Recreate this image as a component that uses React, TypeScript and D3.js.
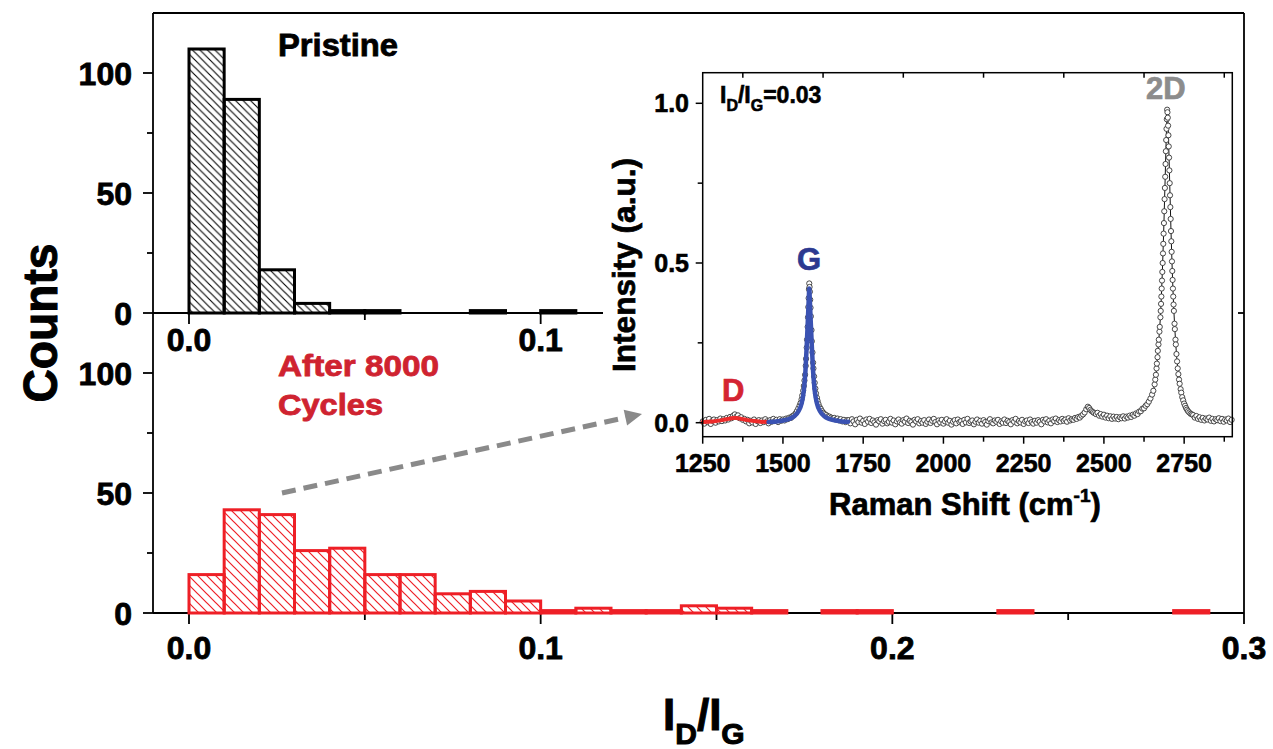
import React from 'react';
import * as d3 from 'd3';

// ---------------- data ----------------
const binWidth = 0.01;
const pristineCounts = [110, 89, 18, 4, 1, 1, 0, 0, 1, 0, 1];
const cycledCounts = [16, 43, 41, 26, 27, 16, 16, 8, 9, 5, 1, 2, 1, 1, 3, 2, 1, 0, 1, 1, 0, 0, 0, 1, 0, 0, 0, 0, 1, 0];
const countTickValues = [0, 50, 100];
const countMinorTicks = [25, 75];
const ratioTicksMain = [0, 0.1, 0.2, 0.3];
const ratioMinorMain = [0.05, 0.15, 0.25];
const ratioTicksTop = [0, 0.1];
const ratioMinorTop = [0.05];
const ramanTicks = [1250, 1500, 1750, 2000, 2250, 2500, 2750];
const ramanMinor = [1375, 1625, 1875, 2125, 2375, 2625, 2875];
const intensityTicks = [0, 0.5, 1.0];
const intensityMinor = [0.25, 0.75];

const spectrum: [number, number][] = [
  [1250, 0.004], [1255, -0.003], [1260, 0.009], [1265, 0.002], [1270, 0.012], [1275, -0.004], [1280, 0.006], [1285, 0.010],
  [1290, 0.000], [1295, 0.008], [1300, 0.004], [1305, 0.013], [1310, 0.005], [1315, 0.011], [1320, 0.007], [1325, 0.015],
  [1330, 0.010], [1335, 0.018], [1340, 0.014], [1345, 0.022], [1350, 0.026], [1355, 0.019], [1360, 0.023], [1365, 0.014],
  [1370, 0.017], [1375, 0.009], [1380, 0.012], [1385, 0.004], [1390, 0.009], [1395, -0.002], [1400, 0.006], [1405, 0.001],
  [1410, 0.010], [1415, -0.004], [1420, 0.005], [1425, 0.008], [1430, -0.001], [1435, 0.007], [1440, 0.002], [1445, 0.011],
  [1450, 0.004], [1455, -0.002], [1460, 0.008], [1465, 0.003], [1470, 0.012], [1475, 0.005], [1480, 0.009], [1485, 0.002],
  [1490, 0.011], [1495, 0.006], [1500, 0.010], [1505, 0.007], [1510, 0.013], [1515, 0.011], [1520, 0.016], [1525, 0.015],
  [1530, 0.021], [1535, 0.024], [1540, 0.030], [1544, 0.037], [1548, 0.045], [1552, 0.054],
  [1555, 0.062], [1558, 0.073], [1560, 0.085], [1563, 0.100], [1565, 0.115], [1567, 0.132], [1569, 0.150], [1571, 0.178],
  [1572, 0.200], [1574, 0.235], [1575, 0.260], [1577, 0.300], [1578, 0.330], [1579, 0.362], [1580, 0.390], [1581, 0.418],
  [1582, 0.436], [1583, 0.425], [1584, 0.410], [1585, 0.385], [1586, 0.360], [1587, 0.333], [1589, 0.290], [1590, 0.255],
  [1592, 0.220], [1594, 0.188], [1595, 0.170], [1597, 0.145], [1599, 0.125], [1601, 0.107], [1603, 0.092], [1606, 0.078],
  [1608, 0.068], [1611, 0.058], [1615, 0.048], [1618, 0.043], [1622, 0.036], [1626, 0.031], [1630, 0.027], [1635, 0.024],
  [1640, 0.020], [1645, 0.019], [1650, 0.016], [1655, 0.013], [1660, 0.015], [1665, 0.010], [1670, 0.013], [1675, 0.007],
  [1680, 0.011], [1685, 0.004], [1690, 0.009], [1695, 0.002], [1700, 0.008],
  [1705, 0.008], [1710, -0.002], [1715, 0.011], [1720, 0.004], [1725, -0.005], [1730, 0.009], [1735, 0.002], [1740, 0.013],
  [1745, 0.000], [1750, 0.006], [1755, -0.004], [1760, 0.010], [1765, 0.003], [1770, 0.012], [1775, -0.001], [1780, 0.007],
  [1785, 0.001], [1790, -0.006], [1795, 0.008], [1800, 0.004], [1805, 0.011], [1810, -0.003], [1815, 0.005], [1820, 0.009],
  [1825, -0.002], [1830, 0.003], [1835, 0.012], [1840, 0.000], [1845, 0.007], [1850, -0.005], [1855, 0.004], [1860, 0.010],
  [1865, 0.001], [1870, -0.003], [1875, 0.008], [1880, 0.003], [1885, 0.013], [1890, -0.001], [1895, 0.006], [1900, 0.002],
  [1905, -0.006], [1910, 0.009], [1915, 0.004], [1920, 0.011], [1925, -0.002], [1930, 0.005], [1935, 0.000], [1940, 0.008],
  [1945, -0.004], [1950, 0.003], [1955, 0.010], [1960, -0.001], [1965, 0.006], [1970, 0.012], [1975, 0.002], [1980, -0.005],
  [1985, 0.007], [1990, 0.001], [1995, 0.009], [2000, -0.003], [2005, 0.004], [2010, 0.011], [2015, 0.000], [2020, 0.006],
  [2025, -0.006], [2030, 0.003], [2035, 0.008], [2040, -0.002], [2045, 0.010], [2050, 0.002], [2055, 0.005], [2060, -0.004],
  [2065, 0.009], [2070, 0.001], [2075, 0.012], [2080, -0.001], [2085, 0.004], [2090, 0.007], [2095, -0.005], [2100, 0.003],
  [2105, 0.010], [2110, 0.000], [2115, 0.006], [2120, -0.003], [2125, 0.008], [2130, 0.002], [2135, -0.006], [2140, 0.005],
  [2145, 0.011], [2150, 0.001], [2155, -0.002], [2160, 0.007], [2165, 0.003], [2170, 0.009], [2175, -0.004], [2180, 0.004],
  [2185, 0.000], [2190, 0.010], [2195, -0.001], [2200, 0.006], [2205, 0.002], [2210, -0.005], [2215, 0.008], [2220, 0.003],
  [2225, 0.012], [2230, -0.002], [2235, 0.005], [2240, 0.001], [2245, 0.009], [2250, -0.004], [2255, 0.004], [2260, 0.007],
  [2265, -0.001], [2270, 0.010], [2275, 0.002], [2280, -0.003], [2285, 0.006], [2290, 0.000], [2295, 0.008], [2300, 0.003],
  [2305, -0.005], [2310, 0.009], [2315, 0.004], [2320, 0.011], [2325, 0.001], [2330, 0.006], [2335, -0.002], [2340, 0.010],
  [2345, 0.005], [2350, 0.013], [2355, 0.002], [2360, 0.008], [2365, 0.004], [2370, 0.012], [2375, 0.006], [2380, 0.010],
  [2385, 0.003], [2390, 0.014], [2395, 0.007], [2400, 0.011], [2405, 0.009], [2410, 0.015], [2415, 0.012], [2420, 0.018],
  [2425, 0.016], [2430, 0.022], [2435, 0.026], [2440, 0.032], [2445, 0.042], [2450, 0.050], [2454, 0.046], [2458, 0.040],
  [2462, 0.036], [2466, 0.033], [2470, 0.030], [2475, 0.027], [2480, 0.031], [2485, 0.022], [2490, 0.027], [2495, 0.019],
  [2500, 0.025], [2505, 0.016], [2510, 0.022], [2515, 0.014], [2520, 0.020], [2525, 0.012], [2530, 0.019], [2535, 0.013],
  [2540, 0.018], [2545, 0.011], [2550, 0.017], [2555, 0.014], [2560, 0.020], [2565, 0.013], [2570, 0.019], [2575, 0.016],
  [2580, 0.022], [2585, 0.018], [2590, 0.025], [2595, 0.022], [2600, 0.029], [2605, 0.027], [2610, 0.035], [2615, 0.036],
  [2620, 0.044], [2625, 0.045], [2630, 0.053], [2635, 0.058], [2640, 0.066], [2645, 0.076], [2650, 0.088], [2654, 0.100],
  [2658, 0.120], [2660, 0.135], [2662, 0.150], [2664, 0.170], [2665, 0.185], [2667, 0.205], [2668, 0.225], [2670, 0.245],
  [2671, 0.260], [2673, 0.285], [2674, 0.300], [2676, 0.330], [2677, 0.350], [2678, 0.372], [2679, 0.395], [2680, 0.420],
  [2681, 0.445], [2682, 0.472], [2683, 0.500], [2684, 0.530], [2685, 0.560], [2686, 0.592], [2687, 0.625], [2688, 0.662],
  [2689, 0.700], [2690, 0.735], [2691, 0.770], [2692, 0.810], [2693, 0.850], [2694, 0.885], [2695, 0.920], [2696, 0.950],
  [2697, 0.980], [2698, 0.972], [2699, 0.955], [2700, 0.930], [2701, 0.900], [2702, 0.865], [2703, 0.830], [2704, 0.790],
  [2705, 0.750], [2706, 0.712], [2707, 0.675], [2708, 0.638], [2709, 0.600], [2710, 0.568], [2711, 0.535], [2712, 0.505],
  [2713, 0.475], [2714, 0.447], [2715, 0.420], [2716, 0.395], [2717, 0.370], [2718, 0.350], [2720, 0.310], [2721, 0.293],
  [2723, 0.260], [2724, 0.245], [2726, 0.215], [2728, 0.192], [2730, 0.170], [2732, 0.152], [2734, 0.135], [2736, 0.122],
  [2739, 0.105], [2741, 0.094], [2744, 0.080], [2747, 0.070], [2750, 0.060], [2753, 0.053], [2756, 0.046], [2759, 0.041],
  [2762, 0.036], [2766, 0.032], [2770, 0.028], [2774, 0.026], [2778, 0.024], [2783, 0.016], [2788, 0.021], [2793, 0.012],
  [2798, 0.017], [2803, 0.009], [2808, 0.015], [2813, 0.007], [2818, 0.013], [2823, 0.010], [2828, 0.016], [2833, 0.006],
  [2838, 0.012], [2843, 0.004], [2848, 0.011], [2853, 0.008], [2858, 0.014], [2863, 0.005], [2868, 0.012], [2873, 0.003],
  [2878, 0.010], [2883, 0.007], [2888, 0.013], [2893, 0.002], [2898, 0.009],
];

const dFit: [number, number][] = [
  [1250, 0.002], [1280, 0.004], [1310, 0.008], [1330, 0.012], [1345, 0.015], [1355, 0.015], [1370, 0.012],
  [1390, 0.008], [1410, 0.005], [1430, 0.003], [1455, 0.002],
];

const gFit: [number, number][] = [
  [1455, 0.002], [1480, 0.004], [1500, 0.007], [1520, 0.012], [1535, 0.020], [1548, 0.035], [1558, 0.060],
  [1565, 0.100], [1570, 0.160], [1574, 0.240], [1578, 0.330], [1580.5, 0.390], [1582, 0.420], [1583.5, 0.390],
  [1586, 0.330], [1590, 0.240], [1594, 0.160], [1599, 0.100], [1606, 0.060], [1616, 0.035], [1629, 0.020],
  [1644, 0.012], [1664, 0.007], [1684, 0.004], [1703, 0.003],
];

// ---------------- layout ----------------
const W = 1273;
const H = 749;
const FONT = '"Liberation Sans", Arial, Helvetica, sans-serif';
const AX_L = 153;
const AX_R = 1244;
const AX_T = 13;
const AX_B = 613;
const TOP_ZERO = 313;
const TOP_AXIS_END = 603;
const RED = '#ee1f26';
const TEXT_RED = '#cf2330';

const xMain = d3.scaleLinear().domain([0, 0.3]).range([189, AX_R]);
const yTop = d3.scaleLinear().domain([0, 100]).range([TOP_ZERO, 73]);
const yBot = d3.scaleLinear().domain([0, 100]).range([AX_B, 373]);

const IN_L = 702.7;
const IN_R = 1232.3;
const IN_T = 72.7;
const IN_B = 436.7;
const xR = d3.scaleLinear().domain([1250, 2900]).range([IN_L, IN_R]);
const yR = d3.scaleLinear().domain([0, 1]).range([422.7, 103.3]);

const fmt1 = d3.format('.1f');

function Bars({ counts, y, fill, stroke }: { counts: number[]; y: d3.ScaleLinear<number, number>; fill: string; stroke: string }) {
  return (
    <g>
      {counts.map((c, i) => {
        if (c <= 0) return null;
        const x0 = xMain(i * binWidth);
        const x1 = xMain((i + 1) * binWidth);
        return (
          <rect key={i} x={x0} y={y(c)} width={x1 - x0} height={y(0) - y(c)}
            fill={fill} stroke={stroke} strokeWidth={3} strokeLinejoin="miter" />
        );
      })}
    </g>
  );
}

export default function App() {
  const line = d3.line<[number, number]>().x((d) => xR(d[0])).y((d) => yR(d[1]));
  const smooth = d3.line<[number, number]>().x((d) => xR(d[0])).y((d) => yR(d[1])).curve(d3.curveMonotoneX);

  // arrow geometry
  const a0 = [282, 493];
  const a1 = [642, 414];
  const dx = a1[0] - a0[0];
  const dy = a1[1] - a0[1];
  const len = Math.hypot(dx, dy);
  const ux = dx / len;
  const uy = dy / len;
  const headL = 17;
  const headW = 8;
  const base = [a1[0] - ux * headL, a1[1] - uy * headL];
  const head = `${a1[0]},${a1[1]} ${base[0] - uy * headW},${base[1] + ux * headW} ${base[0] + uy * headW},${base[1] - ux * headW}`;

  const heavy = (color: string, w = 0.7) => ({ stroke: color, strokeWidth: w, paintOrder: 'stroke' as const });

  return (
    <div style={{ position: 'absolute', left: 0, top: 0, width: W, height: H, background: '#fff' }}>
      <svg width={W} height={H} viewBox={`0 0 ${W} ${H}`} style={{ display: 'block' }} fontFamily={FONT}>
        <defs>
          <pattern id="hatchK" patternUnits="userSpaceOnUse" width={7.5} height={7.5}>
            <path d="M-1,-1 L8.5,8.5 M-1,6.5 L1,8.5 M6.5,-1 L8.5,1" stroke="#000" strokeWidth={1.1} />
          </pattern>
          <pattern id="hatchR" patternUnits="userSpaceOnUse" width={9} height={9}>
            <path d="M-1,-1 L10,10 M-1,8 L1,10 M8,-1 L10,1" stroke={RED} strokeWidth={1.2} />
          </pattern>
        </defs>
        <rect x={0} y={0} width={W} height={H} fill="#fff" />

        {/* ---------- main frame ---------- */}
        <g stroke="#000" strokeWidth={1.8} fill="none">
          <line x1={AX_L} y1={AX_T} x2={AX_L} y2={AX_B} />
          <line x1={AX_L} y1={AX_T} x2={AX_R} y2={AX_T} />
          <line x1={AX_R} y1={AX_T} x2={AX_R} y2={AX_B} />
          <line x1={AX_L} y1={AX_B} x2={AX_R} y2={AX_B} />
          <line x1={AX_L} y1={TOP_ZERO} x2={TOP_AXIS_END} y2={TOP_ZERO} />
          <line x1={AX_R} y1={TOP_ZERO} x2={AX_R - 6} y2={TOP_ZERO} />
          {countTickValues.map((v) => (
            <g key={'yt' + v}>
              <line x1={AX_L - 10} x2={AX_L} y1={yTop(v)} y2={yTop(v)} />
              <line x1={AX_L - 10} x2={AX_L} y1={yBot(v)} y2={yBot(v)} />
            </g>
          ))}
          {countMinorTicks.map((v) => (
            <g key={'ym' + v}>
              <line x1={AX_L - 6} x2={AX_L} y1={yTop(v)} y2={yTop(v)} />
              <line x1={AX_L - 6} x2={AX_L} y1={yBot(v)} y2={yBot(v)} />
            </g>
          ))}
          {ratioTicksMain.map((v) => (
            <line key={'xt' + v} x1={xMain(v)} x2={xMain(v)} y1={AX_B} y2={AX_B + 11} />
          ))}
          {ratioMinorMain.map((v) => (
            <line key={'xm' + v} x1={xMain(v)} x2={xMain(v)} y1={AX_B} y2={AX_B + 7} />
          ))}
          {ratioTicksTop.map((v) => (
            <line key={'xtt' + v} x1={xMain(v)} x2={xMain(v)} y1={TOP_ZERO} y2={TOP_ZERO + 11} />
          ))}
          {ratioMinorTop.map((v) => (
            <line key={'xtm' + v} x1={xMain(v)} x2={xMain(v)} y1={TOP_ZERO} y2={TOP_ZERO + 7} />
          ))}
        </g>

        {/* tick labels main */}
        <g fontSize={32} fontWeight="bold" fill="#000" {...heavy('#000', 0.8)}>
          {countTickValues.map((v) => (
            <g key={'yl' + v}>
              <text x={132} y={yTop(v) + 11.5} textAnchor="end">{v}</text>
              <text x={132} y={yBot(v) + 11.5} textAnchor="end">{v}</text>
            </g>
          ))}
          {ratioTicksMain.map((v) => (
            <text key={'xl' + v} x={xMain(v)} y={659} textAnchor="middle">{fmt1(v)}</text>
          ))}
          {ratioTicksTop.map((v) => (
            <text key={'xlt' + v} x={xMain(v)} y={351} textAnchor="middle">{fmt1(v)}</text>
          ))}
        </g>

        {/* bars */}
        <Bars counts={pristineCounts} y={yTop} fill="url(#hatchK)" stroke="#000" />
        <Bars counts={cycledCounts} y={yBot} fill="url(#hatchR)" stroke={RED} />

        {/* axis titles */}
        <text transform="translate(57,323) rotate(-90)" textAnchor="middle" fontSize={48} fontWeight="bold"
          textLength={159} lengthAdjust="spacingAndGlyphs" {...heavy('#000', 1)}>Counts</text>
        <text x={663} y={730} fontSize={44} fontWeight="bold" {...heavy('#000', 1)}>
          I<tspan fontSize={30} dy={14}>D</tspan><tspan dy={-14}>/I</tspan><tspan fontSize={30} dy={14}>G</tspan>
        </text>

        {/* annotations */}
        <text x={278} y={56} fontSize={31} fontWeight="bold" textLength={120} lengthAdjust="spacingAndGlyphs"
          {...heavy('#000', 0.8)}>Pristine</text>
        <text x={278} y={376} fontSize={30} fontWeight="bold" fill={TEXT_RED} textLength={161} lengthAdjust="spacingAndGlyphs"
          {...heavy(TEXT_RED, 0.8)}>After 8000</text>
        <text x={278} y={415} fontSize={30} fontWeight="bold" fill={TEXT_RED} textLength={105} lengthAdjust="spacingAndGlyphs"
          {...heavy(TEXT_RED, 0.8)}>Cycles</text>

        {/* dashed arrow */}
        <line x1={a0[0]} y1={a0[1]} x2={base[0] + ux * 2} y2={base[1] + uy * 2} stroke="#8a8a8a" strokeWidth={5}
          strokeDasharray="14 8" />
        <polygon points={head} fill="#8a8a8a" />

        {/* ---------- inset ---------- */}
        <g>
          <path d={line(spectrum) || ''} fill="none" stroke="#111" strokeWidth={1} />
          {spectrum.map((d, i) => (
            <circle key={i} cx={xR(d[0])} cy={yR(d[1])} r={2.6} fill="#fff" stroke="#333" strokeWidth={0.9} />
          ))}
          <path d={smooth(dFit) || ''} fill="none" stroke="#ee2b2b" strokeWidth={4} strokeLinecap="round" />
          <path d={smooth(gFit) || ''} fill="none" stroke="#3a52b2" strokeWidth={4.5} strokeLinecap="round" />
        </g>
        <g stroke="#000" strokeWidth={1.5} fill="none">
          <rect x={IN_L} y={IN_T} width={IN_R - IN_L} height={IN_B - IN_T} />
          {ramanTicks.map((v) => (
            <line key={'rt' + v} x1={xR(v)} x2={xR(v)} y1={IN_B} y2={IN_B + 7} />
          ))}
          {ramanMinor.map((v) => (
            <g key={'rm' + v}>
              <line x1={xR(v)} x2={xR(v)} y1={IN_B} y2={IN_B + 5} />
              <line x1={xR(v)} x2={xR(v)} y1={IN_T} y2={IN_T + 5} />
            </g>
          ))}
          {intensityTicks.map((v) => (
            <line key={'it' + v} x1={IN_L - 7} x2={IN_L} y1={yR(v)} y2={yR(v)} />
          ))}
          {intensityMinor.map((v) => (
            <line key={'im' + v} x1={IN_L - 5} x2={IN_L} y1={yR(v)} y2={yR(v)} />
          ))}
        </g>
        <g fontSize={25} fontWeight="bold" fill="#000" {...heavy('#000', 0.6)}>
          {ramanTicks.map((v) => (
            <text key={'rl' + v} x={xR(v)} y={472} textAnchor="middle">{v}</text>
          ))}
          {intensityTicks.map((v) => (
            <text key={'il' + v} x={689} y={yR(v) + 9} textAnchor="end">{fmt1(v)}</text>
          ))}
        </g>
        <text x={829} y={515} fontSize={31} fontWeight="bold" {...heavy('#000', 0.7)}>
          Raman Shift (cm<tspan fontSize={19} dy={-13}>-1</tspan><tspan dy={13}>)</tspan>
        </text>
        <text transform="translate(635,265) rotate(-90)" textAnchor="middle" fontSize={31} fontWeight="bold"
          textLength={214} lengthAdjust="spacingAndGlyphs" {...heavy('#000', 0.7)}>Intensity (a.u.)</text>
        <text x={720} y={103} fontSize={23} fontWeight="bold" {...heavy('#000', 0.6)}>
          I<tspan fontSize={16} dy={8}>D</tspan><tspan dy={-8}>/I</tspan><tspan fontSize={16} dy={8}>G</tspan><tspan dy={-8}>=0.03</tspan>
        </text>
        <text x={722} y={401} fontSize={31} fontWeight="bold" fill="#d42432" {...heavy('#d42432', 0.7)}>D</text>
        <text x={797} y={270} fontSize={31} fontWeight="bold" fill="#2b3990" {...heavy('#2b3990', 0.7)}>G</text>
        <text x={1146} y={99} fontSize={31} fontWeight="bold" fill="#8c8c8c" {...heavy('#8c8c8c', 0.7)}>2D</text>
      </svg>
    </div>
  );
}
